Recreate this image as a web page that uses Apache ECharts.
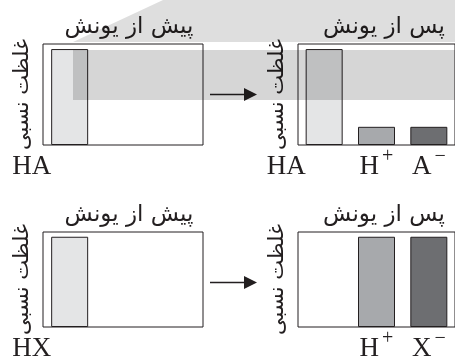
<!DOCTYPE html>
<html>
<head>
<meta charset="utf-8">
<script src="https://cdn.jsdelivr.net/npm/echarts@6/dist/echarts.min.js"></script>
<style>html,body{margin:0;padding:0;background:#fff}#c{width:455px;height:362px}</style>
</head>
<body>
<div id="c"></div>
<script>
// ---- data ----
const panelTitles = ['پیش از یونش', 'پس از یونش', 'پیش از یونش', 'پس از یونش'];
const yName = 'غلظت نسبی';
const topBeforeCats = ['HA', '', ''];
const topBeforeVals = [95, null, null];
const topAfterCats = ['HA', 'H+', 'A-'];
const topAfterVals = [95, 18, 18];
const botBeforeCats = ['HX', '', ''];
const botBeforeVals = [95, null, null];
const botAfterCats = ['', 'H+', 'X-'];
const botAfterVals = [null, 95, 95];
const barColors = ['#e4e5e6', '#a7a9ac', '#6d6e71'];

const cats = [topBeforeCats, topAfterCats, botBeforeCats, botAfterCats];
const vals = [topBeforeVals, topAfterVals, botBeforeVals, botAfterVals];

const ink = '#231f20';
const grids = [
  {left: 43, top: 44, width: 160, height: 101},
  {left: 298, top: 44, width: 160, height: 101},
  {left: 43, top: 232, width: 160, height: 101},
  {left: 298, top: 232, width: 160, height: 101}
].map(g => Object.assign(g, {show: true, borderColor: ink, borderWidth: 1, backgroundColor: 'transparent'}));

const serif = 'Liberation Serif';
const labelFormatter = (v, i) => {
  if (!v) return '';
  const m = v.match(/^(.*?)([+-])$/);
  if (m) return '{b|' + m[1] + '}{sup|' + (m[2] === '+' ? '+' : '\u2212') + '}';
  return i === 0 ? '{shift|' + v + '}' : '{b|' + v + '}';
};

const xAxes = cats.map((c, i) => ({
  type: 'category', gridIndex: i, data: c,
  axisLine: {show: false}, axisTick: {show: false},
  axisLabel: {
    interval: 0, margin: -5, formatter: labelFormatter,
    rich: {
      b: {fontFamily: serif, fontSize: 27, lineHeight: 40, color: ink, verticalAlign: 'bottom'},
      shift: {fontFamily: serif, fontSize: 27, lineHeight: 40, color: ink, verticalAlign: 'bottom', padding: [0, 76, 0, 0]},
      sup: {fontFamily: serif, fontSize: 20, color: ink, verticalAlign: 'bottom', padding: [0, 0, 13, 3]}
    }
  }
}));
const yAxes = cats.map((c, i) => ({
  type: 'value', gridIndex: i, min: 0, max: 100,
  axisLine: {show: false}, axisTick: {show: false}, axisLabel: {show: false}, splitLine: {show: false},
  name: yName, nameLocation: 'middle', nameRotate: 90, nameGap: 10,
  nameTextStyle: {fontFamily: 'DejaVu Sans', fontSize: 21, color: ink}
}));
const series = vals.map((v, i) => ({
  type: 'bar', xAxisIndex: i, yAxisIndex: i, barWidth: 37,
  data: v.map((d, j) => ({value: d, itemStyle: {color: barColors[j], borderColor: ink, borderWidth: 1}})),
  silent: true, animation: false
}));
const titles = panelTitles.map((t, i) => ({
  text: t, left: grids[i].left + 81, top: grids[i].top - 33, textAlign: 'center',
  textStyle: {fontFamily: 'DejaVu Sans', fontSize: 23, fontWeight: 'normal', color: ink}
}));

// arrows between panels and the grey scan band
const arrow = (y) => ([
  {type: 'line', shape: {x1: 210, y1: y, x2: 246, y2: y}, style: {stroke: ink, lineWidth: 1.5}},
  {type: 'polygon', shape: {points: [[244, y - 6.5], [257, y], [244, y + 6.5]]}, style: {fill: ink}}
]);
const graphic = [
  ...arrow(94.5), ...arrow(282.5),
  {type: 'polygon', z: 100, shape: {points: [[163, 0], [455, 0], [455, 42], [73, 42]]}, style: {fill: 'rgba(0,0,0,0.13)'}},
  {type: 'rect', z: 100, shape: {x: 73, y: 50, width: 382, height: 50}, style: {fill: 'rgba(0,0,0,0.16)'}}
];

const chart = echarts.init(document.getElementById('c'), null, {renderer: 'canvas'});
chart.setOption({
  animation: false,
  title: titles,
  grid: grids,
  xAxis: xAxes,
  yAxis: yAxes,
  series: series,
  graphic: graphic
});
</script>
</body>
</html>
